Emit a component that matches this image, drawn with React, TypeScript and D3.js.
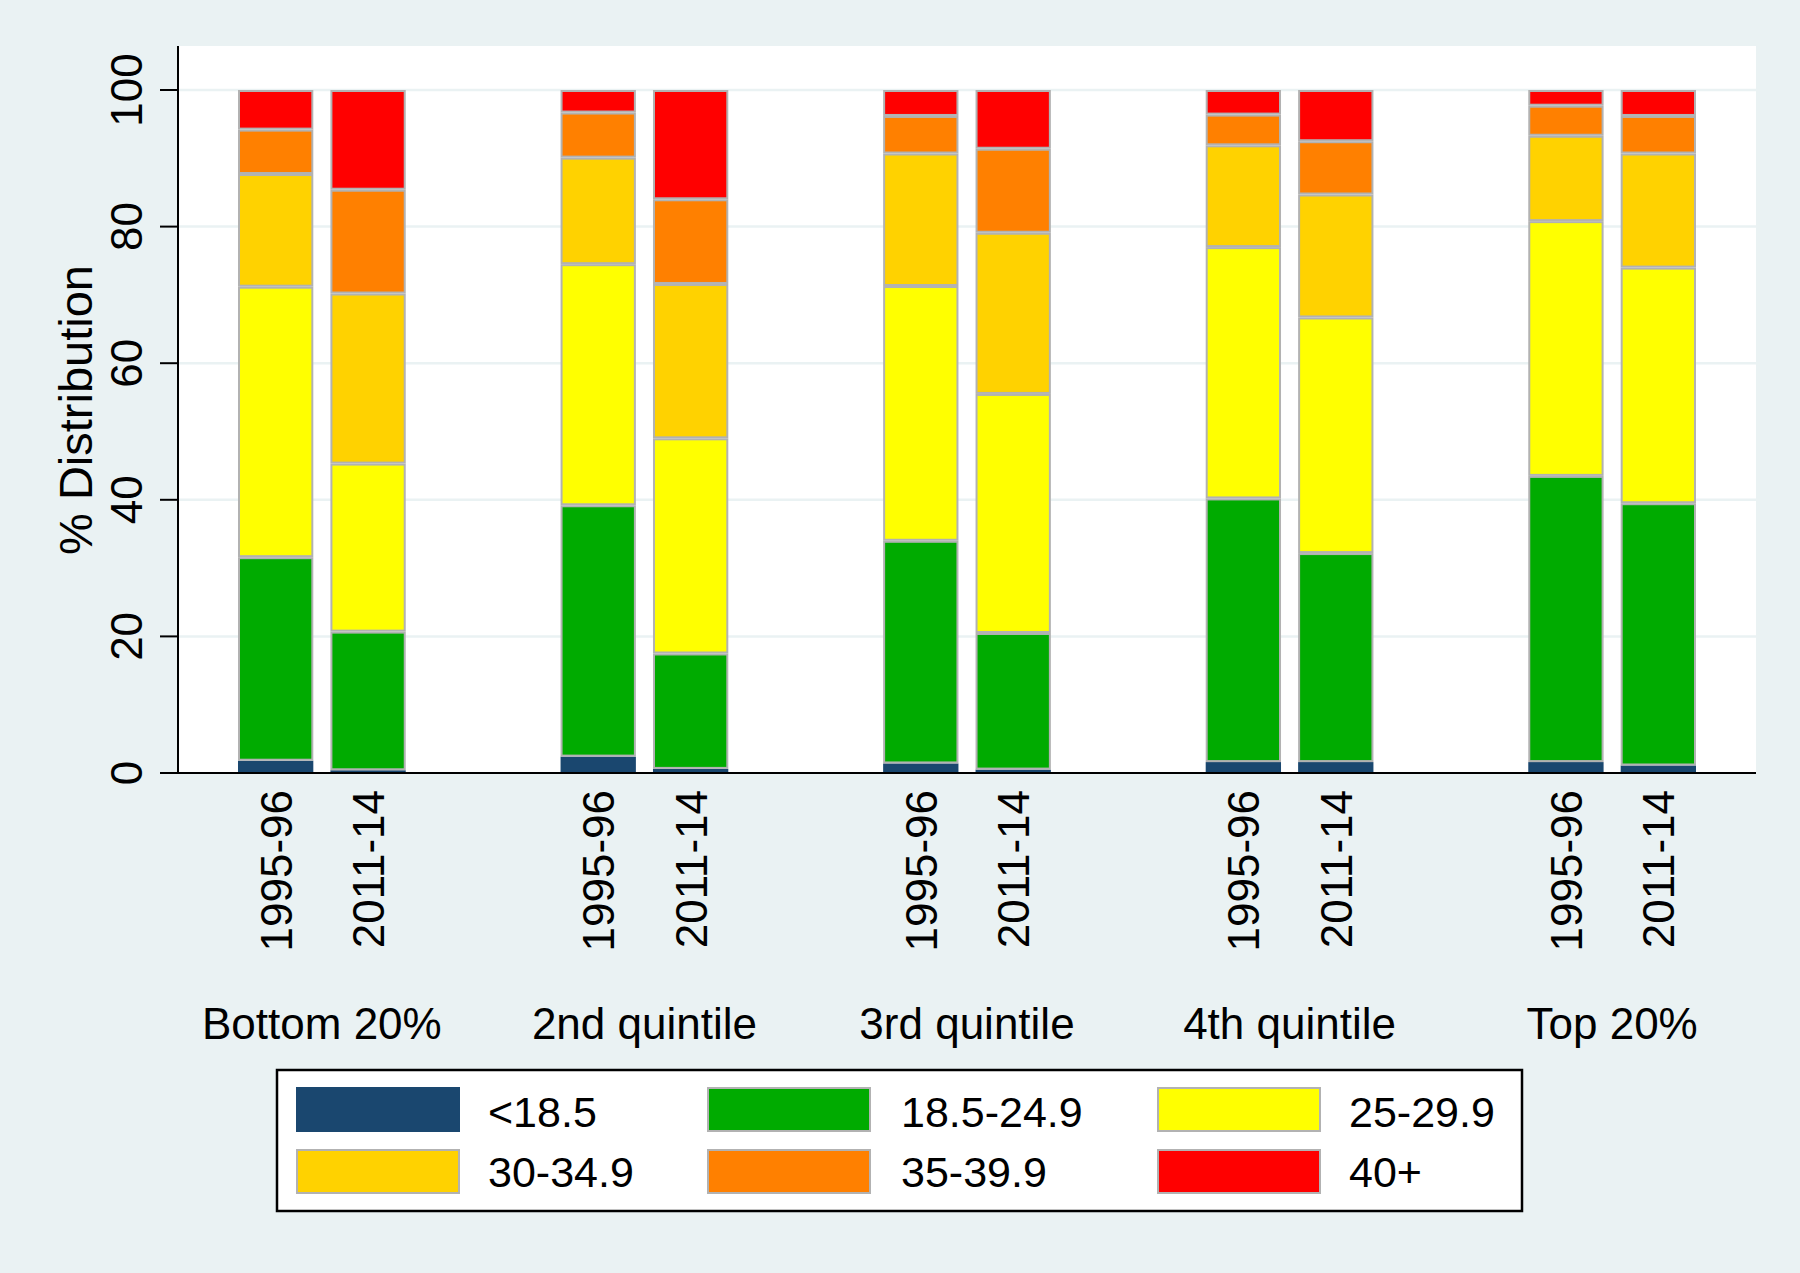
import React from "react";
import * as d3 from "d3";

// ---- data ----
const quintiles = ["Bottom 20%", "2nd quintile", "3rd quintile", "4th quintile", "Top 20%"];
const periods = ["1995-96", "2011-14"];
const bmiCategories = ["<18.5", "18.5-24.9", "25-29.9", "30-34.9", "35-39.9", "40+"];
const categoryColors = ["#1A476F", "#00AB00", "#FFFF00", "#FFD200", "#FF8000", "#FF0000"];
const yTicks = [0, 20, 40, 60, 80, 100];

// values per BMI category, ordered quintile-major then period (1995-96, 2011-14)
const under185 = [1.8, 0.4, 2.4, 0.6, 1.4, 0.5, 1.6, 1.6, 1.6, 1.1];
const bmi185to249 = [29.8, 20.3, 36.8, 16.9, 32.6, 20.0, 38.6, 30.6, 41.9, 38.4];
const bmi25to299 = [39.6, 24.6, 35.3, 31.5, 37.3, 35.0, 36.8, 34.5, 37.3, 34.5];
const bmi30to349 = [16.5, 24.9, 15.6, 22.6, 19.4, 23.6, 14.9, 18.0, 12.5, 16.7];
const bmi35to399 = [6.5, 15.2, 6.6, 12.4, 5.5, 12.3, 4.5, 7.8, 4.4, 5.5];
const bmi40plus = [5.8, 14.6, 3.3, 16.0, 3.8, 8.6, 3.6, 7.5, 2.3, 3.8];

const seriesValues = [under185, bmi185to249, bmi25to299, bmi30to349, bmi35to399, bmi40plus];

type Row = { quintile: string; period: string; [k: string]: any };
const rows: Row[] = [];
quintiles.forEach((q, qi) => {
  periods.forEach((p, pi) => {
    const r: Row = { quintile: q, period: p };
    bmiCategories.forEach((c, ci) => {
      r[c] = seriesValues[ci][qi * periods.length + pi];
    });
    rows.push(r);
  });
});

const W = 1800;
const H = 1273;
const plotLeft = 178;
const plotRight = 1756;
const plotTop = 46;
const font = "'Liberation Sans', Arial, Helvetica, sans-serif";
const bg = "#EAF2F3";
const outline = "#B2B2B2";

export default function App() {
  const y = d3.scaleLinear().domain([0, 100]).range([773, 90]);
  const xGroup = d3
    .scaleBand<string>()
    .domain(quintiles)
    .range([plotLeft, plotRight])
    .paddingInner(0.48)
    .paddingOuter(0.186);
  const xBar = d3
    .scaleBand<string>()
    .domain(periods)
    .range([0, xGroup.bandwidth()])
    .paddingInner(0.185);

  const stack = d3.stack<Row>().keys(bmiCategories);
  const layers = stack(rows);

  const legendCols = [296, 707, 1157];
  const legendTextX = [488, 901, 1349];
  const legendRowsY = [1087, 1149];
  const legendTextY = [1127, 1187];

  return (
    <svg
      width={W}
      height={H}
      style={{ position: "absolute", left: 0, top: 0 }}
      fontFamily={font}
    >
      <rect x={0} y={0} width={W} height={H} fill={bg} />
      <rect x={plotLeft} y={plotTop} width={plotRight - plotLeft} height={y(0) - plotTop} fill="#FFFFFF" />
      {yTicks
        .filter((t) => t > 0)
        .map((t) => (
          <line key={"g" + t} x1={plotLeft} x2={plotRight} y1={y(t)} y2={y(t)} stroke={bg} strokeWidth={2.5} />
        ))}

      {layers.map((layer, li) => (
        <g key={layer.key}>
          {layer.map((d, i) => {
            const row = rows[i];
            const x0 = (xGroup(row.quintile) || 0) + (xBar(row.period) || 0);
            const w = xBar.bandwidth();
            const yTop = y(d[1]);
            const yBot = y(d[0]);
            const h = yBot - yTop;
            const stroke = li === 0 ? categoryColors[0] : outline;
            return (
              <rect
                key={i}
                x={x0 + 1}
                y={yTop + 1}
                width={Math.max(0, w - 2)}
                height={Math.max(0, h - 2)}
                fill={categoryColors[li]}
                stroke={stroke}
                strokeWidth={2}
              />
            );
          })}
        </g>
      ))}

      {/* axes */}
      <line x1={plotLeft} x2={plotLeft} y1={plotTop} y2={y(0) + 1} stroke="#000" strokeWidth={2} />
      <line x1={160} x2={plotRight} y1={y(0)} y2={y(0)} stroke="#000" strokeWidth={2} />
      {yTicks.map((t) => (
        <g key={"t" + t}>
          <line x1={160} x2={plotLeft} y1={y(t)} y2={y(t)} stroke="#000" strokeWidth={2} />
          <text
            transform={`translate(142,${y(t)}) rotate(-90)`}
            textAnchor="middle"
            fontSize={44}
            fill="#000"
          >
            {t}
          </text>
        </g>
      ))}
      <text
        transform={`translate(92,410) rotate(-90)`}
        textAnchor="middle"
        fontSize={47}
        fill="#000"
      >
        % Distribution
      </text>

      {/* x labels */}
      {rows.map((row, i) => {
        const cx = (xGroup(row.quintile) || 0) + (xBar(row.period) || 0) + xBar.bandwidth() / 2;
        return (
          <text
            key={"xl" + i}
            transform={`translate(${cx + 16},790) rotate(-90)`}
            textAnchor="end"
            fontSize={44}
            fill="#000"
          >
            {row.period}
          </text>
        );
      })}
      {quintiles.map((q) => (
        <text
          key={q}
          x={(xGroup(q) || 0) + xGroup.bandwidth() / 2}
          y={1039}
          textAnchor="middle"
          fontSize={44}
          fill="#000"
        >
          {q}
        </text>
      ))}

      {/* legend */}
      <rect x={277} y={1070} width={1245} height={141} fill="#FFFFFF" stroke="#000" strokeWidth={2.5} />
      {bmiCategories.map((c, ci) => {
        const col = ci % 3;
        const r = Math.floor(ci / 3);
        return (
          <g key={"lg" + c}>
            <rect
              x={legendCols[col] + 1}
              y={legendRowsY[r] + 1}
              width={162}
              height={43}
              fill={categoryColors[ci]}
              stroke={ci === 0 ? categoryColors[0] : outline}
              strokeWidth={2}
            />
            <text x={legendTextX[col]} y={legendTextY[r]} fontSize={43} fill="#000">
              {c}
            </text>
          </g>
        );
      })}
    </svg>
  );
}
